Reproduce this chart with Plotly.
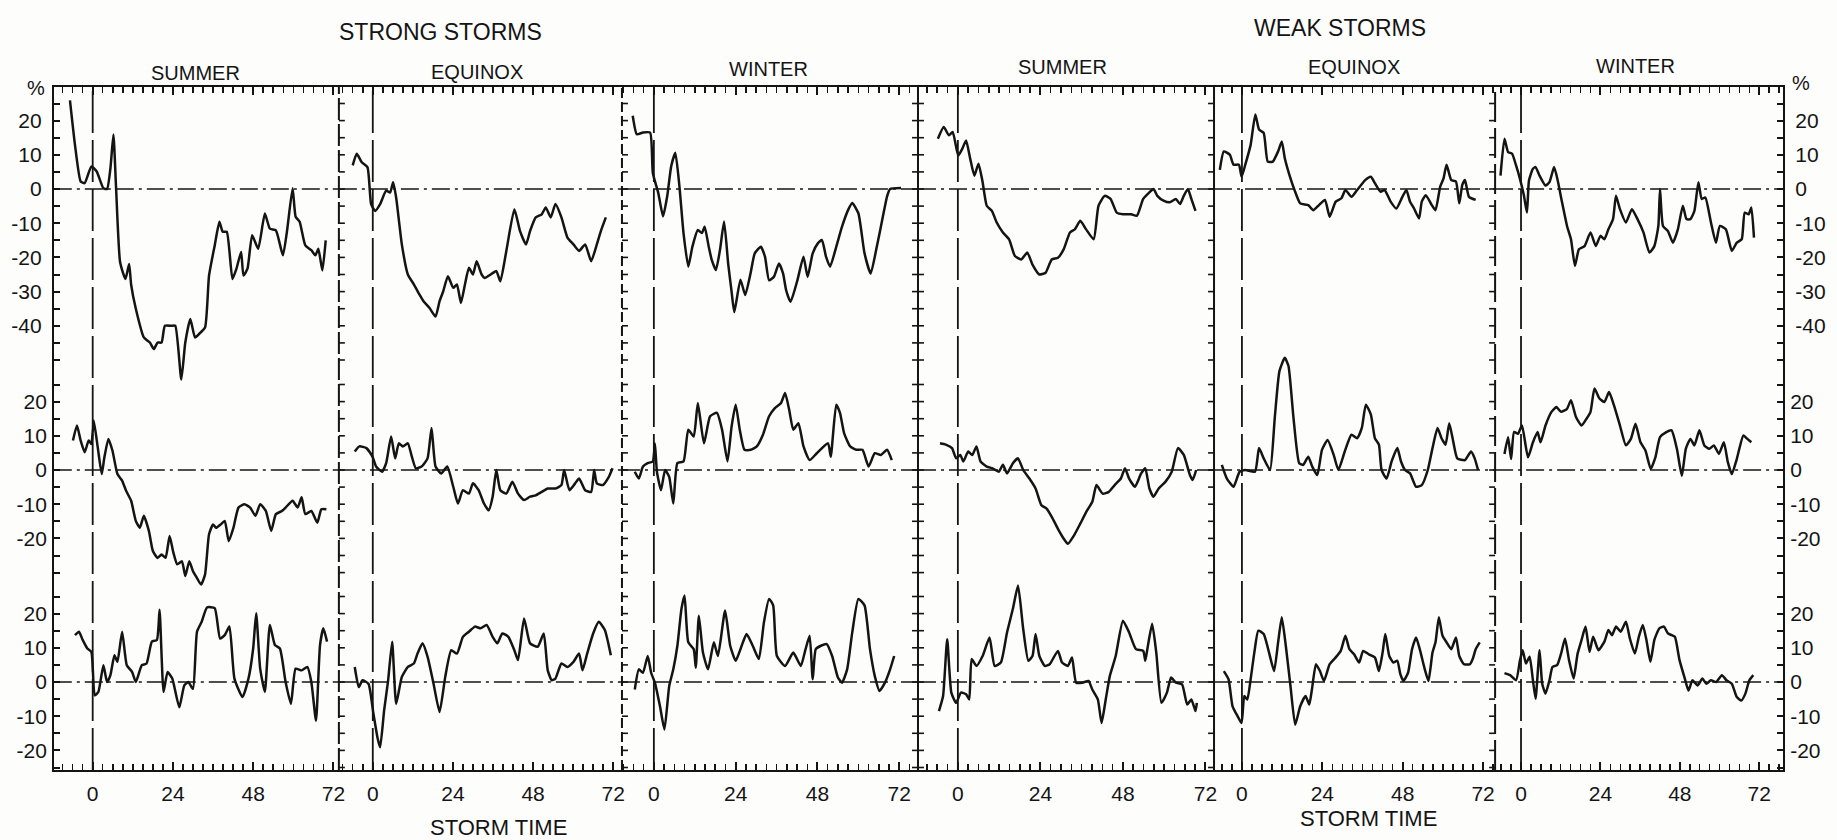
import plotly.graph_objects as go

# ---- storm time (hours) and percent deviation ----
# strong storms / summer
strong_summer_t1 = [-6.8, -5.3, -3.6, -2.4, -0.4, 1.2, 3.2, 4.3, 5.3, 6.2, 7.0, 8.2, 9.8, 10.9, 11.5, 12.9, 15.3, 17.1, 18.3, 19.4, 20.6,
                    21.6, 23.6, 24.7, 26.5, 27.7, 29.2, 30.6, 31.8, 33.6, 34.8, 36.5, 37.9, 38.9, 40.1, 41.8, 43.0, 44.4, 45.1, 46.3, 47.7,
                    49.5, 51.5, 53.0, 54.8, 56.9, 58.1, 59.8, 60.7, 61.9, 63.6, 65.4, 66.6, 67.5, 68.7, 69.7]
strong_summer_v1 = [25.9, 12.9, 2.2, 1.7, 6.6, 5.1, 0.2, 0.0, 6.0, 15.9, 0.2, -21.4, -26.3, -21.9, -28.0, -35.0, -43.4, -44.9, -46.8, -44.9, -44.9,
                    -40.0, -40.0, -40.0, -55.7, -44.9, -38.0, -43.4, -42.4, -40.5, -25.3, -16.5, -9.6, -12.5, -12.5, -26.3, -23.3, -18.4, -25.3, -23.3, -13.5,
                    -17.5, -7.2, -11.6, -12.1, -19.4, -12.5, 0.2, -8.1, -9.6, -16.5, -17.9, -19.4, -17.5, -23.8, -15.0]
strong_summer_t2 = [-5.9, -4.7, -3.6, -2.4, -1.2, -0.4, 0.3, 1.5, 2.7, 3.5, 4.7, 5.9, 7.4, 8.8, 10.0, 11.5, 12.9, 14.1, 15.3, 16.8,
                    18.0, 19.4, 20.6, 21.8, 23.0, 24.1, 25.3, 26.7, 27.7, 28.9, 30.0, 31.2, 32.4, 33.6, 34.8, 36.0, 36.9, 38.3, 39.5, 40.7,
                    42.1, 43.6, 45.4, 47.1, 48.7, 50.1, 51.8, 53.4, 54.8, 56.6, 57.7, 59.8, 61.3, 62.5, 63.6, 65.4, 67.2, 68.4, 69.9]
strong_summer_v2 = [8.6, 13.0, 8.6, 5.2, 8.6, 7.6, 14.5, 6.7, -1.2, 3.7, 9.1, 5.7, -1.2, -3.1, -6.1, -9.0, -14.9, -16.9, -13.4, -17.8,
                    -23.7, -25.7, -24.7, -25.7, -19.3, -24.0, -27.6, -26.7, -31.0, -26.7, -29.6, -31.6, -33.5, -30.6, -18.8, -15.9, -16.9, -15.9, -14.9, -20.8,
                    -16.9, -11.0, -10.0, -11.0, -13.4, -10.0, -12.0, -17.8, -12.9, -12.0, -11.0, -9.0, -11.0, -8.0, -12.9, -12.0, -15.4, -11.5, -11.5]
strong_summer_t3 = [-5.3, -4.1, -3.0, -1.6, -0.4, 0.6, 1.7, 3.2, 4.3, 5.3, 6.5, 7.4, 8.8, 10.2, 11.8, 12.9, 14.7, 16.1, 17.7, 19.2,
                    20.0, 21.2, 22.4, 23.8, 25.9, 27.4, 28.6, 30.0, 31.2, 32.6, 34.2, 36.5, 38.1, 39.5, 40.9, 42.4, 44.8, 46.6, 48.0, 48.9,
                    50.1, 51.5, 53.0, 54.5, 56.0, 57.7, 59.3, 60.7, 62.5, 64.2, 65.4, 66.8, 68.0, 69.0, 70.1]
strong_summer_v3 = [13.7, 14.7, 12.3, 9.8, 8.8, -3.9, -2.9, 4.9, 0.0, 2.0, 7.8, 5.9, 14.7, 4.9, 2.9, 0.0, 4.9, 5.4, 11.8, 12.3,
                    21.1, -2.9, 2.9, 1.0, -7.4, -1.0, 0.0, -2.0, 14.7, 17.6, 21.8, 21.6, 12.7, 13.7, 16.2, 1.0, -4.4, 1.0, 9.8, 20.1,
                    3.9, -2.9, 16.7, 10.8, 9.8, 0.0, -6.4, 3.9, 3.4, 4.4, 0.0, -11.3, 10.8, 15.7, 11.8]

# strong storms / equinox
strong_equinox_t1 = [-6.0, -4.8, -3.3, -1.6, -0.5, 0.7, 2.2, 4.0, 5.2, 6.1, 7.0, 8.7, 10.5, 12.3, 14.0, 15.2, 17.0, 18.8, 20.0, 21.1,
                     22.5, 24.1, 25.2, 26.4, 27.6, 28.8, 30.0, 31.1, 32.6, 33.5, 35.3, 37.0, 38.2, 40.0, 42.4, 44.1, 45.9, 47.1, 48.8, 50.6,
                     51.8, 53.3, 54.7, 56.5, 58.3, 60.1, 61.8, 63.6, 65.4, 67.1, 68.3, 69.8]
strong_equinox_v1 = [6.9, 10.3, 7.8, 6.4, -4.4, -6.4, -4.4, -0.5, -1.0, 2.0, -2.5, -16.2, -25.0, -27.9, -30.9, -32.8, -34.8, -37.3, -32.8, -29.9,
                     -25.5, -28.9, -27.9, -33.3, -27.9, -23.0, -25.0, -21.1, -25.0, -26.0, -25.0, -24.0, -27.0, -18.1, -5.9, -12.3, -16.2, -12.3, -8.3, -7.4,
                     -5.4, -8.3, -4.4, -8.3, -14.2, -16.2, -18.1, -16.2, -21.1, -16.2, -12.3, -8.3]
strong_equinox_t2 = [-5.4, -4.0, -1.9, -0.1, 1.0, 2.8, 4.0, 5.5, 6.7, 7.8, 9.0, 10.5, 11.7, 12.9, 14.6, 16.4, 17.6, 18.8, 20.5, 22.3,
                     24.1, 25.5, 27.0, 28.8, 30.0, 31.7, 33.3, 34.7, 35.9, 37.0, 38.2, 40.0, 41.8, 43.5, 45.3, 47.1, 48.8, 50.6, 52.4, 54.7,
                     56.5, 57.3, 58.9, 60.6, 61.8, 63.6, 65.4, 66.3, 67.1, 68.9, 70.7, 71.8]
strong_equinox_v2 = [5.4, 6.9, 6.4, 3.9, 1.0, -0.5, 2.0, 9.8, 3.4, 7.8, 6.9, 7.8, 3.9, 0.5, 1.0, 3.4, 12.3, 1.0, -1.0, 1.0,
                     -4.9, -9.8, -5.9, -6.9, -3.9, -5.9, -9.8, -11.8, -7.8, 0.0, -5.9, -6.9, -3.4, -6.9, -8.8, -7.8, -7.4, -6.4, -5.4, -5.4,
                     -4.4, 0.0, -5.9, -3.9, -2.5, -5.9, -6.4, 0.0, -3.9, -4.4, -2.0, 0.5]
strong_equinox_t3 = [-5.4, -4.2, -3.1, -1.3, 0.2, 1.4, 2.2, 3.4, 4.6, 5.8, 7.0, 8.7, 10.5, 12.3, 13.4, 14.9, 16.4, 18.2, 20.0, 21.7,
                     23.5, 25.2, 27.0, 28.8, 30.6, 32.3, 34.1, 35.9, 37.3, 38.8, 40.6, 42.4, 43.5, 45.3, 47.1, 49.4, 51.2, 52.4, 53.6, 54.7,
                     56.5, 58.3, 60.1, 61.8, 62.8, 64.2, 66.0, 67.7, 69.5, 71.3]
strong_equinox_v3 = [4.4, -1.5, 0.5, -0.5, -9.3, -16.2, -19.1, -8.3, 0.5, 11.8, -6.4, 1.5, 4.4, 5.4, 8.3, 11.3, 7.4, -0.5, -8.8, 1.5,
                     9.3, 8.3, 13.2, 14.7, 16.2, 15.7, 16.7, 13.2, 11.3, 14.2, 13.2, 9.3, 6.4, 18.6, 11.3, 10.3, 14.2, 3.4, 0.5, 1.0,
                     5.4, 4.4, 5.9, 8.3, 3.4, 8.3, 14.2, 17.6, 15.2, 7.8]

# strong storms / winter
strong_winter_t1 = [-6.2, -5.0, -3.2, -1.1, -0.3, 1.3, 2.7, 3.9, 5.1, 6.3, 7.5, 8.7, 10.1, 11.3, 12.9, 14.1, 14.9, 16.1, 17.0, 18.2,
                    19.4, 20.6, 21.8, 22.8, 23.6, 25.4, 26.8, 28.4, 29.6, 31.4, 32.6, 33.8, 35.2, 36.7, 37.9, 38.8, 40.1, 42.1, 43.9, 45.1,
                    46.6, 48.1, 49.3, 50.5, 51.7, 53.5, 55.2, 57.0, 58.2, 60.0, 61.8, 63.6, 65.4, 67.2, 68.4, 69.3, 72.5]
strong_winter_v1 = [21.4, 16.0, 16.5, 16.5, 4.7, -1.2, -8.0, -2.2, 6.7, 10.6, 0.8, -12.9, -22.7, -16.9, -12.0, -12.9, -11.0, -16.9, -20.8, -23.7,
                    -17.8, -9.5, -21.8, -30.0, -36.0, -26.5, -31.0, -24.5, -18.8, -16.9, -19.8, -26.7, -25.7, -21.8, -24.7, -29.6, -33.0, -26.7, -19.8, -25.7,
                    -18.8, -15.9, -14.9, -19.8, -22.7, -16.9, -11.0, -6.1, -4.1, -7.1, -18.8, -24.7, -16.9, -8.0, -2.2, 0.0, 0.3]
strong_winter_t2 = [-5.6, -4.4, -3.2, -1.8, -0.3, 0.3, 0.9, 2.1, 3.3, 4.5, 5.7, 6.9, 8.7, 10.1, 11.7, 12.9, 14.7, 16.5, 18.5, 20.0,
                    21.6, 22.8, 24.0, 25.2, 26.6, 28.4, 30.2, 32.0, 33.8, 35.5, 37.3, 38.5, 39.7, 40.9, 42.4, 43.9, 45.7, 47.8, 51.1, 51.9,
                    53.5, 54.6, 55.8, 57.6, 59.4, 61.2, 63.0, 64.8, 66.6, 68.4, 69.8]
strong_winter_v2 = [-0.5, -2.5, 1.0, 2.0, 2.5, 7.8, -0.5, -5.9, 0.0, -2.0, -9.8, 2.0, 2.5, 11.8, 9.8, 19.6, 7.8, 15.7, 16.7, 11.8,
                    2.5, 12.7, 19.1, 11.8, 5.9, 5.9, 6.9, 10.3, 15.7, 18.1, 19.6, 22.5, 17.6, 11.8, 13.7, 6.9, 2.9, 4.9, 7.8, 3.9,
                    19.1, 16.7, 10.8, 6.9, 5.9, 5.9, 1.0, 4.9, 4.4, 5.9, 2.9]
strong_winter_t3 = [-5.6, -4.4, -3.2, -1.8, -0.8, 0.3, 1.8, 3.1, 4.5, 5.7, 6.9, 8.1, 9.0, 10.1, 11.7, 12.3, 13.2, 14.4, 15.9, 17.6,
                    18.8, 20.9, 22.4, 24.0, 25.4, 27.2, 29.0, 30.8, 32.3, 33.8, 35.0, 36.1, 38.5, 40.9, 43.1, 44.5, 45.7, 46.6, 47.5, 49.0,
                    50.7, 52.3, 54.0, 55.2, 56.7, 58.2, 60.0, 61.8, 63.4, 64.8, 66.2, 67.8, 69.3, 70.5]
strong_winter_v3 = [-2.2, 3.7, 2.7, 7.6, 2.7, -0.2, -7.1, -13.9, -1.2, 3.7, 10.6, 21.4, 25.3, 11.6, 9.6, 4.2, 19.4, 8.6, 3.7, 11.6,
                    7.6, 20.9, 10.6, 6.2, 9.6, 14.0, 10.6, 6.7, 17.5, 24.3, 22.4, 7.6, 4.7, 8.6, 4.7, 9.6, 13.5, 0.8, 9.6, 10.6,
                    11.1, 7.6, 1.3, -0.2, 3.7, 14.5, 24.3, 22.4, 9.6, 1.8, -2.6, -0.2, 3.7, 7.6]

# weak storms / summer
weak_summer_t1 = [-5.8, -4.1, -2.6, -1.5, 0.1, 1.3, 2.4, 3.6, 4.8, 6.0, 7.2, 8.4, 9.9, 11.3, 13.1, 14.9, 16.6, 18.4, 20.2, 21.7,
                  23.7, 25.5, 27.3, 29.1, 30.8, 32.6, 34.0, 35.6, 37.3, 39.5, 40.9, 42.7, 44.4, 46.2, 48.0, 50.4, 52.1, 53.9, 55.7, 56.9,
                  58.0, 59.8, 61.6, 63.4, 64.6, 65.7, 66.9, 67.9, 69.1]
weak_summer_v1 = [14.7, 18.1, 15.7, 16.7, 9.8, 11.8, 14.2, 8.8, 3.9, 7.4, 2.0, -4.9, -6.4, -9.8, -12.7, -14.7, -19.6, -20.6, -18.6, -22.1,
                  -25.0, -24.5, -20.6, -20.1, -17.6, -12.7, -11.8, -9.3, -11.8, -14.7, -4.9, -2.0, -2.9, -6.9, -7.4, -7.4, -7.8, -2.9, -1.0, 0.0,
                  -2.0, -3.4, -3.9, -2.9, -4.4, -2.0, 0.0, -2.9, -6.4]
weak_summer_t2 = [-5.2, -3.5, -1.7, -0.5, 0.7, 1.6, 3.0, 4.2, 5.4, 6.6, 8.4, 10.1, 11.9, 13.1, 14.3, 16.0, 17.5, 19.0, 20.8, 22.6,
                  24.3, 25.8, 27.3, 29.1, 30.8, 32.0, 33.8, 35.6, 37.3, 39.1, 40.3, 42.1, 43.9, 45.6, 47.4, 48.6, 49.8, 51.5, 53.3, 54.5,
                  55.7, 56.9, 58.4, 60.4, 62.2, 64.0, 65.7, 67.5, 68.3, 69.3]
weak_summer_v2 = [7.8, 7.4, 6.4, 3.4, 4.4, 2.5, 5.4, 4.4, 6.9, 2.5, 1.0, 0.5, -0.5, 1.5, -1.0, 2.0, 3.4, 0.0, -2.5, -5.4,
                  -10.3, -11.3, -13.7, -17.2, -20.1, -21.6, -19.1, -15.7, -12.3, -9.3, -4.4, -6.9, -6.4, -4.4, -2.5, 0.5, -2.5, -4.9, -1.0, 0.5,
                  -5.4, -7.8, -5.4, -3.4, -0.5, 6.4, 4.4, -1.5, -2.9, 0.0]
weak_summer_t3 = [-5.5, -4.3, -3.1, -1.9, -0.5, 0.9, 2.4, 3.3, 4.0, 5.4, 7.2, 9.2, 10.7, 12.5, 14.3, 16.0, 17.5, 19.0, 20.5, 21.7,
                  22.6, 23.7, 25.3, 26.7, 29.1, 30.3, 32.0, 33.2, 34.4, 36.2, 38.0, 39.1, 40.7, 41.8, 43.0, 44.2, 45.9, 48.0, 49.8, 51.8,
                  53.9, 54.5, 55.1, 56.5, 57.7, 59.2, 60.8, 62.0, 63.4, 65.2, 66.7, 67.9, 69.1, 69.5]
weak_summer_v3 = [-8.5, -4.1, 12.5, -3.1, -6.1, -3.1, -3.6, -5.1, 6.7, 4.7, 7.6, 13.0, 4.7, 5.7, 14.5, 21.4, 28.2, 15.5, 6.2, 7.6,
                  14.0, 7.6, 4.7, 5.2, 9.1, 5.7, 4.7, 7.2, -0.2, -0.2, 0.3, -2.2, -5.1, -12.0, -5.1, 1.8, 7.6, 17.9, 14.5, 9.6,
                  9.1, 6.2, 9.6, 17.0, 8.6, -6.1, -3.1, 1.3, -0.2, -0.7, -6.6, -5.1, -8.5, -6.1]

# weak storms / equinox
weak_equinox_t1 = [-6.6, -5.4, -3.6, -2.5, -0.9, -0.1, 1.0, 2.6, 4.0, 5.1, 6.5, 7.7, 9.2, 10.8, 11.9, 12.8, 14.5, 15.7, 17.4, 19.8,
                   21.3, 23.0, 24.8, 26.2, 28.0, 29.7, 30.9, 32.7, 34.4, 36.8, 38.5, 39.7, 41.4, 42.6, 44.4, 46.1, 47.9, 49.1, 50.2, 51.4,
                   52.9, 53.7, 54.9, 56.7, 57.8, 59.2, 60.2, 61.1, 62.5, 63.9, 64.9, 65.8, 66.6, 67.8, 69.8]
weak_equinox_v1 = [5.6, 11.0, 10.0, 7.1, 7.1, 3.6, 7.1, 12.9, 21.8, 17.4, 16.4, 8.0, 8.0, 11.0, 13.9, 9.0, 3.1, -0.3, -4.2, -4.7,
                   -6.2, -4.7, -3.2, -8.1, -3.7, -2.7, -0.3, -2.3, -0.3, 2.6, 3.6, 1.7, -0.8, -0.3, -3.7, -5.7, -2.3, -0.3, -3.7, -5.7,
                   -8.6, -3.7, -1.8, -4.7, -6.2, 0.7, 3.1, 7.1, 2.6, 2.2, -4.2, 1.2, 2.6, -2.3, -3.2]
weak_equinox_t2 = [-6.0, -4.5, -2.5, -0.7, 1.0, 3.9, 5.1, 6.5, 8.4, 9.8, 11.2, 12.8, 13.9, 15.4, 17.1, 18.3, 19.8, 21.0, 22.5, 23.9,
                   25.6, 27.4, 28.8, 30.7, 32.7, 34.4, 35.8, 37.0, 38.5, 39.7, 40.9, 41.7, 43.2, 44.7, 46.4, 47.5, 48.7, 50.2, 52.0, 53.7,
                   55.5, 56.9, 58.4, 59.6, 60.8, 61.9, 63.1, 64.3, 66.6, 68.4, 69.5, 70.5]
weak_equinox_v2 = [1.5, -2.5, -4.9, -0.5, 0.0, -0.5, 6.4, 3.4, 0.0, 15.2, 28.9, 32.8, 30.4, 15.2, 2.0, 1.5, 3.9, 1.0, -1.5, 5.9,
                   8.8, 4.4, 0.0, 5.4, 10.3, 9.3, 12.3, 19.1, 16.2, 9.3, 7.4, 0.0, -2.5, 2.5, 6.4, 2.5, 0.0, -1.0, -4.9, -4.4,
                   0.0, 6.4, 12.3, 9.3, 7.4, 13.7, 8.3, 3.4, 2.9, 5.4, 3.4, 0.0]
weak_equinox_t3 = [-5.4, -4.0, -2.8, -1.3, -0.1, 0.7, 1.6, 2.6, 3.7, 4.9, 6.5, 8.1, 9.6, 10.8, 11.9, 13.1, 14.5, 15.9, 17.4, 19.0,
                   20.1, 20.9, 22.1, 23.3, 24.5, 26.2, 28.0, 29.5, 30.9, 32.1, 33.5, 35.0, 36.2, 37.9, 39.7, 40.9, 42.0, 42.8, 44.0, 45.2,
                   46.4, 47.3, 48.2, 49.6, 50.8, 52.0, 53.1, 54.6, 55.7, 56.9, 57.8, 58.8, 59.9, 61.1, 62.5, 63.9, 64.9, 66.3, 68.1, 68.9,
                   69.8, 71.0]
weak_equinox_v3 = [3.2, 0.8, -7.1, -10.0, -12.0, -4.1, -5.1, 0.8, 8.6, 15.0, 14.0, 8.6, 3.2, 11.6, 18.9, 10.6, -1.2, -12.5, -7.1, -4.1,
                   -6.6, -2.2, 5.2, 3.2, 0.3, 5.2, 7.2, 9.1, 13.5, 9.6, 8.1, 5.7, 9.1, 8.1, 7.2, 3.2, 8.6, 14.0, 7.6, 5.7,
                   6.2, 2.3, 0.3, 2.7, 9.6, 13.0, 9.6, 3.7, 0.3, 8.6, 11.6, 18.9, 13.5, 11.6, 9.6, 13.0, 7.6, 5.2, 5.2, 6.7,
                   9.6, 11.6]

# weak storms / winter
weak_winter_t1 = [-6.2, -5.0, -3.9, -2.7, -1.5, -0.3, 0.9, 1.8, 2.4, 3.6, 4.4, 5.6, 7.4, 8.6, 10.0, 11.2, 12.4, 13.9, 15.1, 16.3,
                  17.5, 19.2, 21.0, 22.6, 24.0, 25.2, 26.4, 27.8, 28.7, 29.9, 31.7, 33.5, 35.2, 37.0, 38.8, 40.3, 41.5, 42.0, 42.9, 44.4,
                  45.9, 47.4, 48.9, 50.0, 51.2, 52.4, 53.6, 54.6, 55.7, 57.4, 58.9, 60.1, 61.9, 63.7, 65.2, 66.7, 67.6, 68.8, 69.6, 70.4]
weak_winter_v1 = [3.9, 14.7, 10.8, 10.3, 6.9, 2.9, -2.0, -6.9, 2.5, 5.9, 6.4, 3.9, 1.0, 2.0, 6.4, 2.0, -3.9, -10.8, -14.7, -22.5,
                  -17.6, -16.7, -12.7, -16.7, -13.7, -14.7, -11.8, -8.8, -2.0, -5.9, -9.8, -5.9, -8.8, -12.7, -18.6, -16.7, -10.8, 0.0, -10.8, -12.3,
                  -15.7, -11.8, -4.9, -8.8, -8.8, -6.4, 2.0, -2.9, -2.5, -9.8, -15.7, -10.8, -11.8, -18.1, -15.7, -14.7, -6.9, -7.4, -5.4, -14.2]
weak_winter_t2 = [-5.0, -3.9, -3.0, -2.1, -0.9, 0.3, 2.1, 3.6, 5.0, 5.9, 7.4, 9.2, 10.7, 12.1, 13.9, 15.1, 16.6, 18.3, 19.8, 21.0,
                  22.2, 23.7, 25.2, 26.6, 28.1, 29.9, 31.7, 33.2, 34.6, 36.1, 37.6, 39.2, 40.6, 42.0, 43.9, 45.5, 47.1, 48.6, 49.8, 51.2,
                  52.4, 53.9, 55.4, 56.9, 58.3, 59.8, 61.3, 62.5, 63.7, 65.2, 67.2, 68.4, 69.6]
weak_winter_v2 = [4.7, 9.6, 3.2, 11.1, 10.6, 13.0, 3.7, 8.1, 11.1, 8.1, 13.0, 17.0, 18.4, 17.0, 17.9, 20.4, 15.5, 13.0, 15.0, 17.0,
                  23.8, 20.9, 19.9, 22.8, 18.9, 13.0, 7.2, 9.1, 13.5, 8.1, 5.7, 0.3, 3.7, 9.6, 11.1, 11.6, 6.2, -1.7, 6.2, 9.1,
                  7.2, 11.6, 7.2, 6.2, 7.2, 4.7, 8.1, 2.3, -1.2, 3.2, 10.1, 9.1, 8.1]
weak_winter_t3 = [-5.0, -3.3, -1.5, -0.3, 0.5, 1.5, 2.6, 3.6, 4.4, 5.6, 6.4, 7.4, 8.6, 9.5, 10.9, 12.1, 13.3, 14.5, 15.9, 17.1,
                  18.3, 19.5, 20.7, 21.8, 23.4, 25.2, 26.4, 27.5, 28.7, 30.1, 31.7, 32.9, 34.4, 35.6, 36.8, 37.9, 39.1, 40.3, 41.8, 43.2,
                  44.4, 45.5, 46.5, 47.9, 49.5, 50.6, 51.8, 53.4, 54.8, 56.0, 57.4, 59.0, 60.7, 62.1, 63.7, 65.2, 66.6, 67.8, 69.0, 70.2]
weak_winter_v3 = [2.6, 2.0, 0.5, 6.4, 9.3, 5.4, 7.4, 0.5, -4.9, 9.3, -0.5, -3.4, 0.5, 4.4, 4.9, 8.3, 12.7, 6.4, 1.0, 8.3,
                  12.3, 16.2, 8.8, 13.2, 9.3, 11.8, 15.2, 13.7, 16.2, 14.7, 17.6, 12.7, 8.3, 13.2, 16.7, 12.3, 5.9, 12.3, 15.7, 16.2,
                  14.2, 13.7, 13.2, 6.4, 1.0, -2.5, 0.5, -1.0, 1.0, -0.5, 0.5, 0.0, 2.0, 0.5, -0.5, -4.4, -5.4, -3.4, 0.5, 2.0]

season_labels = ["SUMMER", "EQUINOX", "WINTER", "SUMMER", "EQUINOX", "WINTER"]
group_labels = ["STRONG STORMS", "WEAK STORMS"]
x_labels = [0, 24, 48, 72]
row1_labels = [20, 10, 0, -10, -20, -30, -40]
row2_labels = [20, 10, 0, -10, -20]
row3_labels = [20, 10, 0, -10, -20]

panels = [
    [(strong_summer_t1, strong_summer_v1), (strong_summer_t2, strong_summer_v2), (strong_summer_t3, strong_summer_v3)],
    [(strong_equinox_t1, strong_equinox_v1), (strong_equinox_t2, strong_equinox_v2), (strong_equinox_t3, strong_equinox_v3)],
    [(strong_winter_t1, strong_winter_v1), (strong_winter_t2, strong_winter_v2), (strong_winter_t3, strong_winter_v3)],
    [(weak_summer_t1, weak_summer_v1), (weak_summer_t2, weak_summer_v2), (weak_summer_t3, weak_summer_v3)],
    [(weak_equinox_t1, weak_equinox_v1), (weak_equinox_t2, weak_equinox_v2), (weak_equinox_t3, weak_equinox_v3)],
    [(weak_winter_t1, weak_winter_v1), (weak_winter_t2, weak_winter_v2), (weak_winter_t3, weak_winter_v3)],
]

# ---- page geometry (pixels of the 1837x840 page) ----
W, H = 1837, 840
TOP, BOT = 87, 770
EDGES = [54, 340, 624, 921, 1218, 1500, 1789]
ZERO_PX = [93, 374, 656, 961, 1246, 1526]
PX_PER_H = [3.354, 3.35, 3.42, 3.45, 3.36, 3.32]
ROW_ZERO = [189, 470, 682]
PX_PER_PCT = 3.42
INK = "#141414"
FONT = "Liberation Sans, Arial, sans-serif"


def px(x):
    return x / W


def py(y):
    return 1 - y / H


def xname(c):
    return "x" if c == 0 else f"x{c + 1}"


def yname(c, r):
    if c < 5:
        return ["y", "y2", "y3"][r]
    return ["y4", "y5", "y6"][r]


def row_range(r):
    return [-(BOT - ROW_ZERO[r]) / PX_PER_PCT, (ROW_ZERO[r] - TOP) / PX_PER_PCT]


def row_ticks(labels, hi, lo):
    vals = list(range(hi, lo - 1, -5))
    return vals, [str(v) if v in labels else "" for v in vals]


fig = go.Figure()
for c, rows in enumerate(panels):
    for r, (t, v) in enumerate(rows):
        fig.add_trace(go.Scatter(
            x=t, y=v, xaxis=xname(c), yaxis=yname(c, r), mode="lines",
            line=dict(color=INK, width=2.5, shape="spline", smoothing=0.5),
            hoverinfo="skip", showlegend=False,
        ))

ydom = [py(BOT), py(TOP)]
tickfont = dict(family=FONT, size=21, color=INK)
layout = {}

for c in range(6):
    key = "xaxis" if c == 0 else f"xaxis{c + 1}"
    layout[key] = dict(
        domain=[px(EDGES[c]), px(EDGES[c + 1])],
        range=[(EDGES[c] - ZERO_PX[c]) / PX_PER_H[c], (EDGES[c + 1] - ZERO_PX[c]) / PX_PER_H[c]],
        anchor="y" if c < 5 else "y4",
        showline=True, mirror="ticks", linecolor=INK, linewidth=2,
        ticks="inside", ticklen=8, tickwidth=2, tickcolor=INK,
        tickmode="array", tickvals=x_labels, ticktext=[str(v) for v in x_labels],
        tickfont=tickfont, ticklabelstandoff=4,
        minor=dict(tickmode="linear", tick0=0, dtick=3, ticks="inside", ticklen=6, tickwidth=1.5, tickcolor=INK),
        showgrid=False, zeroline=False, fixedrange=True,
    )

tick_sets = [row_ticks(row1_labels, 25, -50), row_ticks(row2_labels, 25, -30), row_ticks(row3_labels, 25, -25)]
for side, names, anchor in [("left", ["yaxis", "yaxis2", "yaxis3"], "x"), ("right", ["yaxis4", "yaxis5", "yaxis6"], "x6")]:
    base = "y" if side == "left" else "y4"
    for r, key in enumerate(names):
        vals, text = tick_sets[r]
        ax = dict(
            domain=ydom, range=row_range(r), anchor=anchor, side=side,
            showline=(r == 0), linecolor=INK, linewidth=2,
            ticks="inside", ticklen=6, tickwidth=2, tickcolor=INK,
            tickmode="array", tickvals=vals, ticktext=text, tickfont=tickfont,
            ticklabelstandoff=6, showgrid=False, zeroline=False, fixedrange=True,
        )
        if r > 0:
            ax["overlaying"] = base
        layout[key] = ax

shapes = []
for c in range(6):
    for r in range(3):
        shapes.append(dict(
            type="line", xref=f"{xname(c)} domain", x0=0, x1=1, yref=yname(c, r), y0=0, y1=0,
            line=dict(color=INK, width=1.7, dash="18px,5px,3px,5px"), layer="below",
        ))
    shapes.append(dict(
        type="line", xref=xname(c), x0=0, x1=0, yref="paper", y0=ydom[0], y1=ydom[1],
        line=dict(color=INK, width=1.8, dash="42px,7px"), layer="below",
    ))

# panel dividers: line style and the side their small ticks point to (+1 right, -1 left)
dividers = [("22px,4px", [1]), ("10px,4px", [1]), ("solid", [-1, 1]), ("solid", [-1]), ("30px,6px", [-1])]
for e, (dash, sides) in zip(EDGES[1:-1], dividers):
    shapes.append(dict(
        type="line", xref="paper", x0=px(e), x1=px(e), yref="paper", y0=ydom[0], y1=ydom[1],
        line=dict(color=INK, width=2, dash=dash),
    ))
    for r in range(3):
        for val in tick_sets[r][0]:
            for s in sides:
                shapes.append(dict(
                    type="line", xref="paper", x0=px(e), x1=px(e + 6 * s), yref=yname(0, r), y0=val, y1=val,
                    line=dict(color=INK, width=1.6),
                ))

annotations = []


def label(text, x, y, size):
    annotations.append(dict(
        text=text, x=px(x), y=py(y), xref="paper", yref="paper", showarrow=False,
        xanchor="center", yanchor="middle", font=dict(family=FONT, size=size, color=INK),
    ))


label(group_labels[0], 442, 32, 23)
label(group_labels[1], 1344, 28, 23)
for name, cx, cy in zip(season_labels, [196, 479, 771, 1066, 1358, 1641], [73, 72, 69, 67, 67, 66]):
    label(name, cx, cy, 20)
label("STORM TIME", 500, 827, 22)
label("STORM TIME", 1373, 818, 22)
label("%", 36, 88, 20)
label("%", 1807, 83, 20)

fig.update_layout(
    width=W, height=H, autosize=False,
    margin=dict(l=0, r=0, t=0, b=0),
    paper_bgcolor="#fdfdfc", plot_bgcolor="rgba(0,0,0,0)",
    showlegend=False, shapes=shapes, annotations=annotations,
    font=dict(family=FONT, color=INK),
    **layout,
)

fig.write_html(
    "out.html",
    config={"displayModeBar": False, "staticPlot": True},
    post_script="document.body.style.margin='0';document.body.style.overflow='hidden';",
)
